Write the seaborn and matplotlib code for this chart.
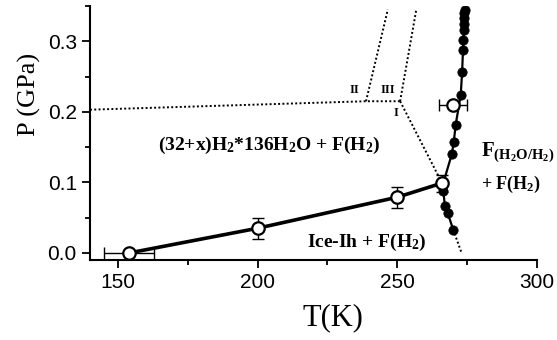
import matplotlib
matplotlib.use("Agg")
import matplotlib.pyplot as plt
import seaborn as sns
import numpy as np
import pandas as pd
from matplotlib.ticker import MultipleLocator

# ---- data ----
# open circles (ice-Ih melting under H2), with error bars
open_T = [154, 200, 250, 266, 270]
open_P = [0.000, 0.035, 0.079, 0.099, 0.209]
open_xerr = [9, 0, 0, 0, 5]
open_yerr = [0.0, 0.015, 0.015, 0.012, 0.0]

# solid line through open circles (lower branch)
line_T = [154, 200, 250, 266]
line_P = [0.000, 0.035, 0.079, 0.099]

# filled circles
fill_T = [270.0, 268.0, 267.0, 266.5, 266.3, 269.5, 270.2, 270.9, 272.7, 273.2, 273.5,
          273.6, 273.8, 273.9, 274.0, 274.0, 274.1]
fill_P = [0.033, 0.057, 0.066, 0.088, 0.097, 0.140, 0.157, 0.182, 0.224, 0.257, 0.287,
          0.302, 0.316, 0.325, 0.333, 0.340, 0.345]

# dotted phase boundaries
bound1_T = [140, 238.8, 251.0]
bound1_P = [0.203, 0.215, 0.215]
bound2_T = [238.8, 246.6]
bound2_P = [0.215, 0.345]
bound3_T = [251.0, 256.8]
bound3_P = [0.215, 0.345]
bound4_T = [251.0, 265.5]
bound4_P = [0.215, 0.103]
bound5_T = [270.0, 273.0]
bound5_P = [0.033, 0.000]

xticks = [150, 200, 250, 300]
yticks = [0.0, 0.1, 0.2, 0.3]

# ---- plot ----
sns.set_style("ticks", {"axes.edgecolor": "black", "xtick.color": "black",
                        "ytick.color": "black", "text.color": "black",
                        "axes.labelcolor": "black"})
plt.rcParams['font.family'] = ['Liberation Sans', 'DejaVu Sans']
plt.rcParams['mathtext.fontset'] = 'custom'
plt.rcParams['mathtext.rm'] = 'Liberation Serif'
plt.rcParams['mathtext.it'] = 'Liberation Serif:italic'
plt.rcParams['mathtext.bf'] = 'Liberation Serif:bold'

fig = plt.figure(figsize=(5.57, 3.40), dpi=100)
ax = fig.add_axes([0.1616, 0.2353, 0.8025, 0.7471])

dot_kw = dict(color="black", linestyle=(0, (1, 1.2)), linewidth=1.4, ax=ax, legend=False)
for bt, bp in [(bound1_T, bound1_P), (bound2_T, bound2_P), (bound3_T, bound3_P),
               (bound4_T, bound4_P), (bound5_T, bound5_P)]:
    sns.lineplot(x=bt, y=bp, sort=False, estimator=None, **dot_kw)

sns.lineplot(x=line_T, y=line_P, sort=False, estimator=None, color="black", linewidth=2.6, ax=ax)

# line through filled circles
order = np.argsort(fill_P)
ft = np.array(fill_T)[order]
fp = np.array(fill_P)[order]
sns.lineplot(x=ft, y=fp, sort=False, estimator=None, color="black", linewidth=1.6, ax=ax)
sns.scatterplot(x=fill_T, y=fill_P, color="black", s=45, edgecolor="black", zorder=4, ax=ax)

ax.errorbar(open_T, open_P, xerr=open_xerr, yerr=open_yerr, fmt="none", ecolor="black",
            elinewidth=1.0, capsize=4, capthick=1.0, zorder=5)
sns.scatterplot(x=open_T, y=open_P, color="white", edgecolor="black", linewidth=1.6,
                s=80, zorder=6, ax=ax)

ax.set_xlim(140, 300)
ax.set_ylim(-0.01, 0.35)
ax.set_xticks(xticks)
ax.set_yticks(yticks)
ax.xaxis.set_minor_locator(MultipleLocator(25))
ax.yaxis.set_minor_locator(MultipleLocator(0.05))
ax.tick_params(axis="both", which="major", length=6, width=1.3, labelsize=15,
               direction="out", colors="black")
ax.tick_params(axis="both", which="minor", length=3.5, width=1.3, direction="out",
               colors="black")
for s in ["left", "bottom"]:
    ax.spines[s].set_linewidth(1.5)
    ax.spines[s].set_color("black")
sns.despine(ax=ax)

serif = ["Liberation Serif", "DejaVu Serif"]
ax.set_xlabel("T(K)", fontsize=22, family=serif, color="black")
ax.xaxis.set_label_coords(0.544, -0.17)
ax.set_ylabel("P (GPa)", fontsize=19, family=serif, color="black")
ax.yaxis.set_label_coords(-0.11, 0.65)

tkw = dict(family=serif, fontweight="bold", color="black", ha="center", va="center")
ax.text(204, 0.153, r"(32+x)H$_\mathbf{2}$*136H$_\mathbf{2}$O + F(H$_\mathbf{2}$)", fontsize=14, **tkw)
ax.text(239, 0.015, r"Ice-Ih + F(H$_\mathbf{2}$)", fontsize=14, **tkw)
ax.text(293, 0.143, r"F$_{\mathbf{(H_2O/H_2)}}$", fontsize=15, **tkw)
ax.text(290.5, 0.097, r"+ F(H$_\mathbf{2}$)", fontsize=13, **tkw)
ax.text(234.5, 0.231, "II", fontsize=9, **tkw)
ax.text(246.6, 0.231, "III", fontsize=9, **tkw)
ax.text(249.6, 0.199, "I", fontsize=9, **tkw)

fig.savefig("out.png", dpi=100)
